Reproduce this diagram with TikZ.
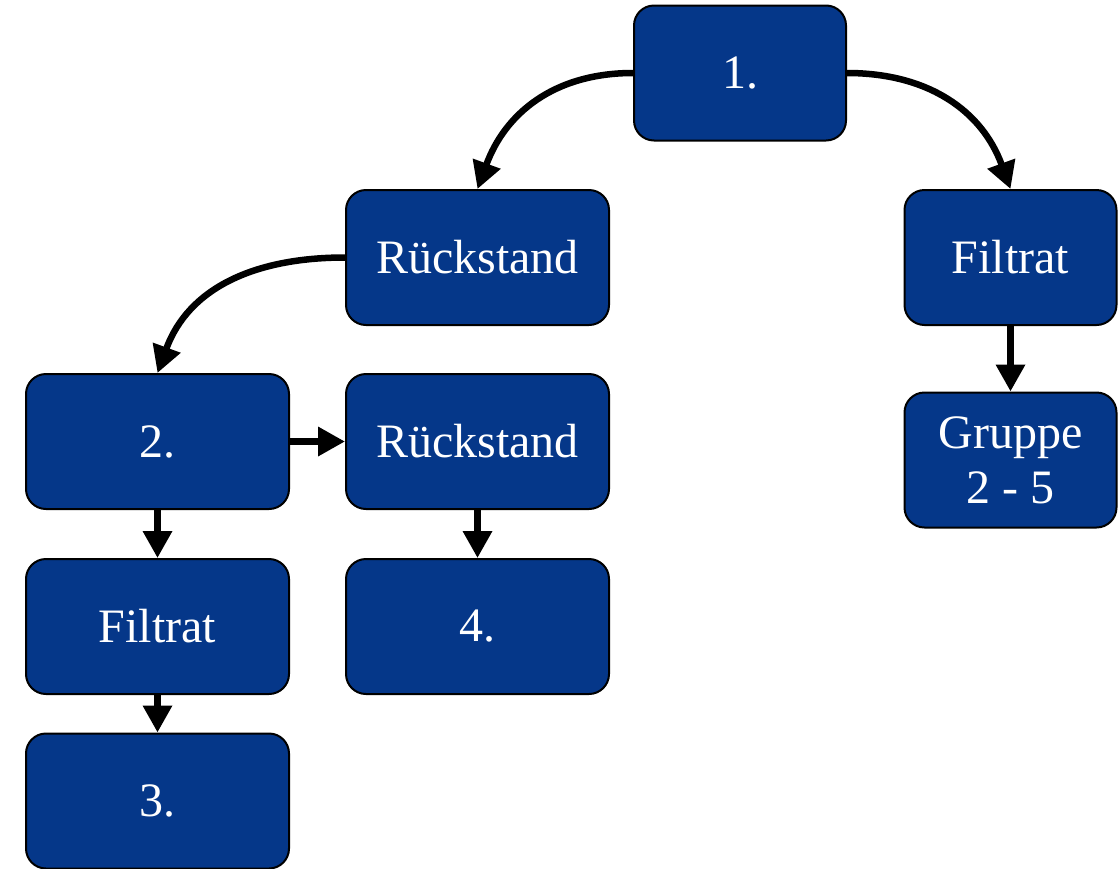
\documentclass[tikz,border=0pt]{standalone}
\usepackage{fontspec}
\setmainfont{Liberation Serif}
\usetikzlibrary{arrows.meta}
\definecolor{boxblue}{HTML}{053789}
\begin{document}
\begin{tikzpicture}[x=1pt,y=-1pt,
  box/.style={draw=black,line width=2pt,fill=boxblue,rounded corners=20pt,
    text=white,font=\fontsize{48}{55}\selectfont,align=center,
    minimum width=263pt,minimum height=135pt,inner sep=0pt},
  narrow/.style={minimum width=212pt},
  conn/.style={line width=6.5pt,-{Triangle[length=27pt,width=28pt]}}]
\useasboundingbox (0,0) rectangle (1119,868);
\node[box,narrow] (n1) at (740,73) {1.};
\node[box] (r1) at (477.5,257.5) {Rückstand};
\node[box,narrow] (f1) at (1010.5,257.5) {Filtrat};
\node[box,narrow] (g) at (1010.5,460) {Gruppe\\2 - 5};
\node[box] (n2) at (157.5,441.5) {2.};
\node[box] (r2) at (477.5,441.5) {Rückstand};
\node[box] (f2) at (157.5,626.5) {Filtrat};
\node[box] (n4) at (477.5,626.5) {4.};
\node[box] (n3) at (157.5,801) {3.};
\draw[conn] (n1.west) to[out=180,in=70,looseness=1.05] (r1.north);
\draw[conn] (n1.east) to[out=0,in=110,looseness=1.05] (f1.north);
\draw[conn] (r1.west) to[out=180,in=70,looseness=1.05] (n2.north);
\draw[conn] (n2.east) -- (r2.west);
\draw[conn] (n2.south) -- (f2.north);
\draw[conn] (r2.south) -- (n4.north);
\draw[conn] (f2.south) -- (n3.north);
\draw[conn] (f1.south) -- (g.north);
\end{tikzpicture}
\end{document}
